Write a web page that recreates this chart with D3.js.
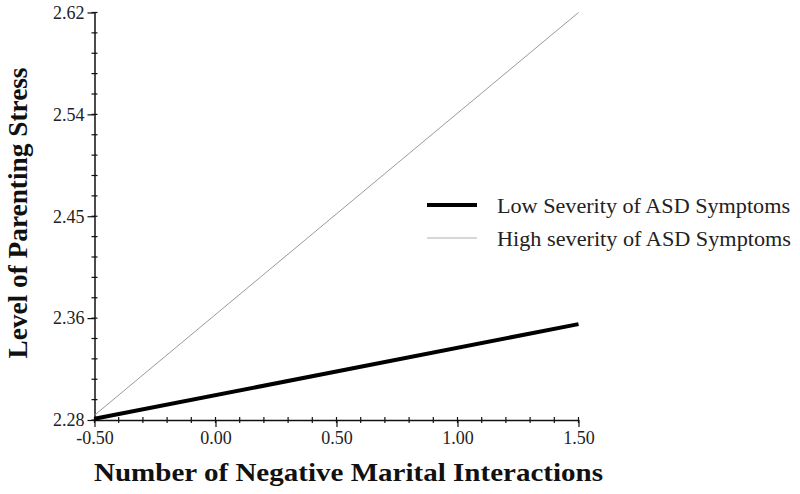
<!DOCTYPE html>
<html>
<head>
<meta charset="utf-8">
<script src="https://cdn.jsdelivr.net/npm/d3@7"></script>
<style>
  body { margin: 0; background: #fff; }
</style>
</head>
<body>
<div id="viz"></div>
<script>
// data
var xValues = [-0.5, 1.5];
var lowSeverity = [2.281, 2.360];
var highSeverity = [2.284, 2.620];
var seriesNames = ["Low Severity of ASD Symptoms", "High severity of ASD Symptoms"];
var xTicks = [-0.5, 0, 0.5, 1, 1.5];
var xTickLabels = ["-0.50", "0.00", "0.50", "1.00", "1.50"];
var yTicks = [2.28, 2.365, 2.45, 2.535, 2.62];
var yTickLabels = ["2.28", "2.36", "2.45", "2.54", "2.62"];

var serif = "'Liberation Serif', 'Times New Roman', serif";

// set the dimensions and margins of the graph
var margin = {top: 12.5, right: 221.5, bottom: 74, left: 94.5},
    width = 800 - margin.left - margin.right,
    height = 494 - margin.top - margin.bottom;

var svg = d3.select("#viz")
  .append("svg")
    .attr("width", 800)
    .attr("height", 494)
  .append("g")
    .attr("transform", "translate(" + margin.left + "," + margin.top + ")");

var x = d3.scaleLinear().domain([-0.5, 1.5]).range([0, width]);
var y = d3.scaleLinear().domain([2.28, 2.62]).range([height, 0]);

// minor ticks (5 subdivisions per major step)
var xMinor = d3.range(21).map(function(i) { return -0.5 + i * 0.1; });
var yMinor = d3.range(21).map(function(i) { return 2.28 + i * 0.017; });

svg.append("g")
    .selectAll("line")
    .data(xMinor)
    .enter()
    .append("line")
      .attr("x1", function(d) { return x(d); })
      .attr("x2", function(d) { return x(d); })
      .attr("y1", height - 3)
      .attr("y2", height + 3)
      .attr("stroke", "#111")
      .attr("stroke-width", 1.2);

svg.append("g")
    .selectAll("line")
    .data(yMinor)
    .enter()
    .append("line")
      .attr("y1", function(d) { return y(d); })
      .attr("y2", function(d) { return y(d); })
      .attr("x1", -3)
      .attr("x2", 3)
      .attr("stroke", "#111")
      .attr("stroke-width", 1.2);

// X axis
var xAxis = svg.append("g")
    .attr("transform", "translate(0," + height + ")")
    .call(d3.axisBottom(x)
      .tickValues(xTicks)
      .tickSize(7)
      .tickSizeOuter(0)
      .tickPadding(4)
      .tickFormat(function(d, i) { return xTickLabels[i]; }));

// Y axis
var yAxis = svg.append("g")
    .call(d3.axisLeft(y)
      .tickValues(yTicks)
      .tickSize(7)
      .tickSizeOuter(0)
      .tickPadding(3)
      .tickFormat(function(d, i) { return yTickLabels[i]; }));

xAxis.attr("font-family", serif).attr("font-size", 18);
yAxis.attr("font-family", serif).attr("font-size", 18);
xAxis.select(".domain").attr("stroke", "#111").attr("stroke-width", 1.5);
yAxis.select(".domain").attr("stroke", "#111").attr("stroke-width", 1.5);
xAxis.selectAll(".tick line").attr("stroke", "#111").attr("stroke-width", 1.2);
yAxis.selectAll(".tick line").attr("stroke", "#111").attr("stroke-width", 1.2);
xAxis.selectAll(".tick text").attr("fill", "#222");
yAxis.selectAll(".tick text").attr("fill", "#222");

// lines
var line = d3.line()
    .x(function(d, i) { return x(xValues[i]); })
    .y(function(d) { return y(d); });

svg.append("path")
    .datum(highSeverity)
    .attr("d", line)
    .attr("fill", "none")
    .attr("stroke", "#9a9a9a")
    .attr("stroke-width", 1);

svg.append("path")
    .datum(lowSeverity)
    .attr("d", line)
    .attr("fill", "none")
    .attr("stroke", "#000")
    .attr("stroke-width", 4);

// legend
var legend = svg.append("g")
    .attr("transform", "translate(" + (427 - margin.left) + "," + (205 - margin.top) + ")");

var legendStyles = [{w: 4, c: "#000"}, {w: 1, c: "#b0b0b0"}];

seriesNames.forEach(function(name, i) {
  var row = legend.append("g").attr("transform", "translate(0," + (i * 33) + ")");
  row.append("line")
      .attr("x1", 0).attr("x2", 50)
      .attr("y1", 0).attr("y2", 0)
      .attr("stroke", legendStyles[i].c)
      .attr("stroke-width", legendStyles[i].w);
  row.append("text")
      .attr("x", 70)
      .attr("y", 8)
      .attr("fill", "#222")
      .style("font-family", serif)
      .style("font-size", "20px")
      .attr("textLength", i == 0 ? 293 : 294)
      .attr("lengthAdjust", "spacingAndGlyphs")
      .text(name);
});

// axis titles
svg.append("text")
    .attr("x", 348.5 - margin.left)
    .attr("y", 481 - margin.top)
    .attr("text-anchor", "middle")
    .attr("fill", "#111")
    .style("font-family", serif)
    .style("font-size", "25px")
    .style("font-weight", "bold")
    .attr("textLength", 509)
    .attr("lengthAdjust", "spacingAndGlyphs")
    .text("Number of Negative Marital Interactions");

svg.append("text")
    .attr("transform", "translate(" + (27 - margin.left) + "," + (213 - margin.top) + ") rotate(-90)")
    .attr("text-anchor", "middle")
    .attr("fill", "#111")
    .style("font-family", serif)
    .style("font-size", "27px")
    .style("font-weight", "bold")
    .attr("textLength", 291)
    .attr("lengthAdjust", "spacingAndGlyphs")
    .text("Level of Parenting Stress");
</script>
</body>
</html>
